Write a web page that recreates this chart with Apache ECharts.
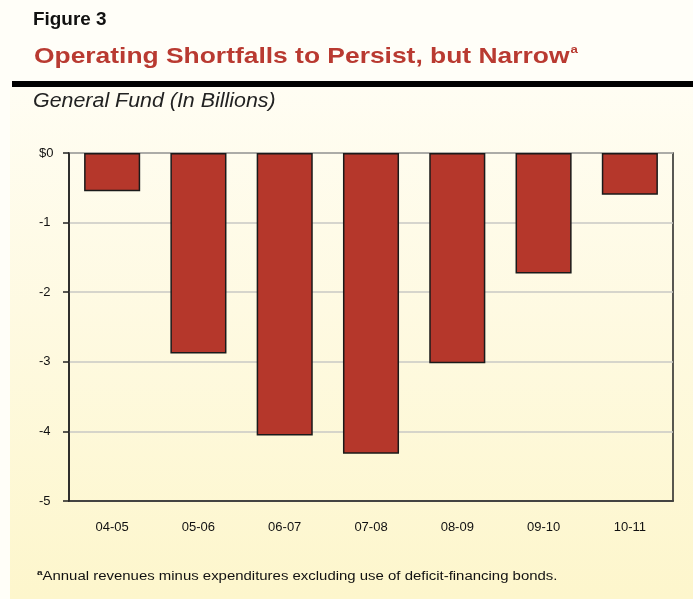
<!DOCTYPE html>
<html>
<head>
<meta charset="utf-8">
<script src="https://cdn.jsdelivr.net/npm/echarts@6/dist/echarts.min.js"></script>
<style>
html,body{margin:0;padding:0;background:#fffef8;}
#chart{width:693px;height:599px;}
</style>
</head>
<body>
<div id="chart"></div>
<script>
const categories = ['04-05','05-06','06-07','07-08','08-09','09-10','10-11'];
const shortfall = [-0.55, -2.88, -4.06, -4.32, -3.02, -1.73, -0.6];
const yTickLabels = {'0':'$0', '-1':'-1', '-2':'-2', '-3':'-3', '-4':'-4', '-5':'-5'};

const chart = echarts.init(document.getElementById('chart'), null, {renderer:'canvas'});
const font = '"Liberation Sans", Arial, sans-serif';
chart.setOption({
  backgroundColor: '#fffef8',
  animation: false,
  graphic: [
    {type:'rect', z:-10, shape:{x:10,y:87,width:683,height:512},
     style:{fill:{type:'linear',x:0,y:0,x2:0,y2:1,colorStops:[{offset:0,color:'#fffdf3'},{offset:1,color:'#fdf6cc'}]}}},
    {type:'rect', z:-5, shape:{x:12,y:81,width:681,height:6}, style:{fill:'#000'}},
    {type:'text', x:33, y:20, scaleX:1.05, style:{text:'Figure 3', font:'bold 18px '+font, fill:'#111', verticalAlign:'middle'}},
    {type:'text', x:34, y:56, scaleX:1.2, style:{
      text:'{t|Operating Shortfalls to Persist, but Narrow}{s|a}', verticalAlign:'middle',
      rich:{t:{font:'bold 22px '+font, fill:'#b93a31', verticalAlign:'bottom'},
            s:{font:'bold 11px '+font, fill:'#b93a31', verticalAlign:'top', padding:[0,0,12,1]}}}},
    {type:'text', x:33, y:101, scaleX:1.07, style:{text:'General Fund (In Billions)', font:'italic 20px '+font, fill:'#222', verticalAlign:'middle'}},
    {type:'text', x:37, y:577, scaleX:1.245, style:{
      text:'{s|a}{t|Annual revenues minus expenditures excluding use of deficit-financing bonds.}', verticalAlign:'middle',
      rich:{s:{font:'bold 8px '+font, fill:'#111', padding:[0,0,8,0]},
            t:{font:'12px '+font, fill:'#111'}}}}
  ],
  grid: {left:69, right:20, top:153, bottom:98, show:true, borderColor:'#222', borderWidth:1.5, backgroundColor:'transparent'},
  xAxis: {
    type:'category', data:categories, position:'bottom',
    axisLine:{onZero:false, lineStyle:{color:'#222', width:1.5}},
    axisTick:{show:false},
    axisLabel:{fontFamily:font, fontSize:13, color:'#111', margin:20}
  },
  yAxis: {
    type:'value', min:-5, max:0, interval:1,
    axisLine:{show:true, lineStyle:{color:'#222', width:1.5}},
    axisTick:{show:true, length:6, lineStyle:{color:'#222', width:1.5}},
    axisLabel:{fontFamily:font, fontSize:13, color:'#111', margin:30, align:'left',
      formatter: v => yTickLabels[String(v)] !== undefined ? yTickLabels[String(v)] : String(v)},
    splitLine:{show:true, lineStyle:{color:'#c9c9c4', width:1.5}}
  },
  series: [{
    type:'bar', data:shortfall, barCategoryGap:'35%',
    itemStyle:{color:'#b5372b', borderColor:'#1a1a1a', borderWidth:1.5}
  }]
});
</script>
</body>
</html>
